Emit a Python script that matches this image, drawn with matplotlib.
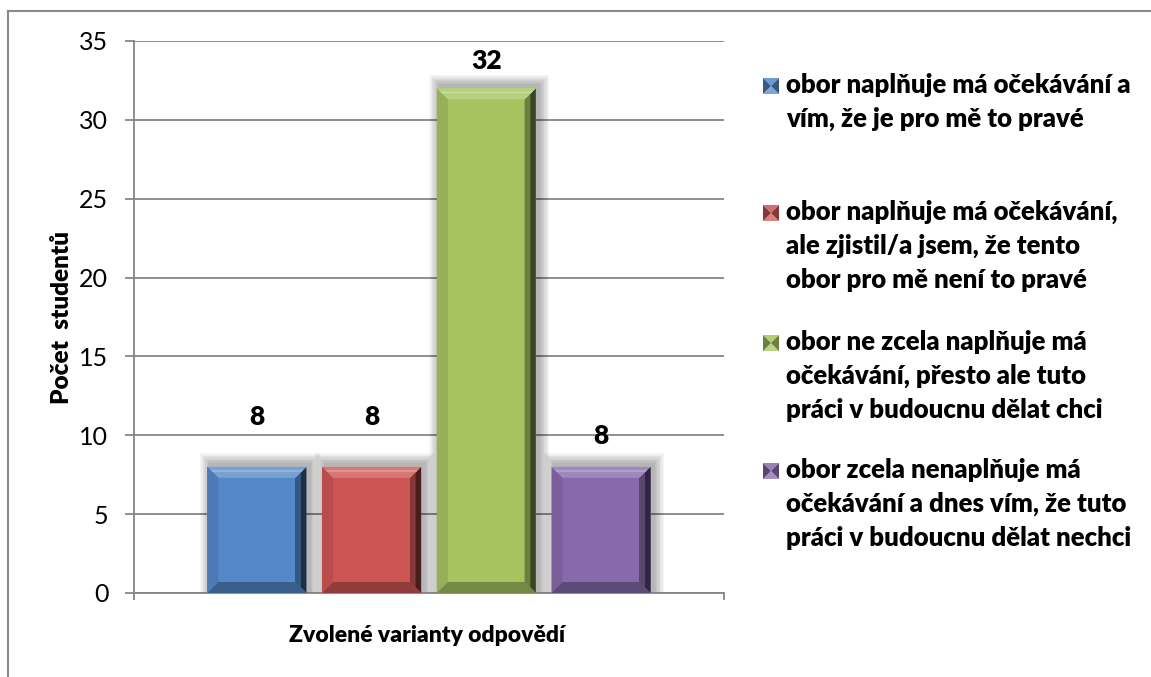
import numpy as np
import matplotlib
matplotlib.use("Agg")
import matplotlib.pyplot as plt
import matplotlib.colors as mcolors
from matplotlib.patches import Polygon, Rectangle
from matplotlib.lines import Line2D

plt.rcParams['font.family'] = ['Lato', 'DejaVu Sans']

# --- data ---
labels = [
    "obor naplňuje má očekávání a\nvím, že je pro mě to pravé",
    "obor naplňuje má očekávání,\nale zjistil/a jsem, že tento\nobor pro mě není to pravé",
    "obor ne zcela naplňuje má\nočekávání, přesto ale tuto\npráci v budoucnu dělat chci",
    "obor zcela nenaplňuje má\nočekávání a dnes vím, že tuto\npráci v budoucnu dělat nechci",
]
values = [8, 8, 32, 8]
colors = ['#5588C8', '#CD5654', '#A5C45F', '#876AAC']
y_ticks = [0, 5, 10, 15, 20, 25, 30, 35]
# vertical offsets (points) of the value labels above the bars
label_offsets = [36, 36, 20, 22.5]

W, H = 1151, 677
fig = plt.figure(figsize=(W / 100, H / 100), dpi=100)
ax = fig.add_axes([134 / W, 1 - 593 / H, (724 - 134) / W, (593 - 41) / H])

xlim = (-1.072, 4.072)
ylim = (0, 35)
ax.set_xlim(*xlim)
ax.set_ylim(*ylim)
sx = 590 / (xlim[1] - xlim[0])   # px per x unit
sy = 552 / (ylim[1] - ylim[0])   # px per y unit

def mix(c, other, t):
    a = np.array(mcolors.to_rgb(c))
    b = np.array(mcolors.to_rgb(other))
    return tuple(a * (1 - t) + b * t)

x = np.arange(len(values))
bars = ax.bar(x, values, width=0.863, color=colors, zorder=3, linewidth=0)

# shadow + bevel effect
bp = 11
for bar, c in zip(bars, colors):
    x0 = bar.get_x()
    w = bar.get_width()
    h = bar.get_height()
    x1 = x0 + w
    dx, dy = bp / sx, bp / sy
    for k in range(8):
        e = (k + 1) * 1.3
        ax.add_patch(Rectangle((x0 - e / sx + 3 / sx, -e / sy),
                               w + 2 * e / sx, h + 2 * e / sy + 3 / sy,
                               facecolor='black', alpha=0.04, lw=0, zorder=2))
    top = [(x0, h), (x1, h), (x1 - dx, h - dy), (x0 + dx, h - dy)]
    left = [(x0, 0), (x0, h), (x0 + dx, h - dy), (x0 + dx, dy)]
    right = [(x1, 0), (x1, h), (x1 - dx, h - dy), (x1 - dx, dy)]
    right_in = [(x1 - dx / 2, dy / 2), (x1 - dx / 2, h - dy / 2), (x1 - dx, h - dy), (x1 - dx, dy)]
    bottom = [(x0, 0), (x1, 0), (x1 - dx, dy), (x0 + dx, dy)]
    shine = [(x0 + dx * 0.3, h - dy * 0.3), (x1 - dx * 0.3, h - dy * 0.3),
             (x1 - dx * 0.45, h - dy * 0.45), (x0 + dx * 0.45, h - dy * 0.45)]
    for pts, col in [(left, mix(c, 'black', 0.1)), (right, mix(c, 'black', 0.65)),
                     (right_in, mix(c, 'black', 0.35)),
                     (bottom, mix(c, 'black', 0.3)), (top, mix(c, 'white', 0.2)),
                     (shine, mix(c, 'white', 0.4))]:
        ax.add_patch(Polygon(pts, closed=True, facecolor=col, lw=0, zorder=4))

for bar, v, off in zip(bars, values, label_offsets):
    ax.annotate(str(v), (bar.get_x() + bar.get_width() / 2, v),
                xytext=(0, off), textcoords='offset points',
                ha='center', va='center', fontsize=19, fontweight='heavy', zorder=5)

# axes styling
grid_c = '#868686'
ax.set_yticks(y_ticks)
ax.yaxis.grid(True, color=grid_c, linewidth=1.3)
ax.set_axisbelow(True)
for s in ['top', 'right']:
    ax.spines[s].set_visible(False)
for s in ['left', 'bottom']:
    ax.spines[s].set_color(grid_c)
    ax.spines[s].set_linewidth(1.3)
ax.tick_params(axis='y', direction='out', length=6.5, width=1.3, color=grid_c,
               pad=12, labelsize=18)
ax.set_xticks([xlim[0], xlim[1]])
ax.set_xticklabels(['', ''])
ax.tick_params(axis='x', direction='out', length=5, width=1.3, color=grid_c)

fig.text(62 / W, 1 - 317 / H, "Počet  studentů", rotation=90, ha='center', va='center',
         fontsize=17.5, fontweight='heavy')
fig.text(427 / W, 1 - 635 / H, "Zvolené varianty odpovědí", ha='center', va='center',
         fontsize=16.5, fontweight='heavy')

# legend drawn by hand
first_line_y = [85, 212, 342, 470]
line_px = 34
for lab, c, y0 in zip(labels, colors, first_line_y):
    for k, line in enumerate(lab.split('\n')):
        fig.text(786 / W, 1 - (y0 + k * line_px) / H, line, ha='left', va='center',
                 fontsize=18.5, fontweight='heavy')
    mx0, mx1 = 763, 779
    my0, my1 = y0 - 7, y0 + 9
    cx, cy = (mx0 + mx1) / 2, (my0 + my1) / 2
    tris = [
        ([(mx0, my0), (mx1, my0), (cx, cy)], mix(c, 'white', 0.15)),
        ([(mx0, my1), (mx1, my1), (cx, cy)], mix(c, 'white', 0.25)),
        ([(mx0, my0), (mx0, my1), (cx, cy)], mix(c, 'black', 0.35)),
        ([(mx1, my0), (mx1, my1), (cx, cy)], mix(c, 'black', 0.35)),
    ]
    for pts, col in tris:
        fpts = [(px / W, 1 - py / H) for px, py in pts]
        fig.patches.append(Polygon(fpts, closed=True, facecolor=col, lw=0,
                                   transform=fig.transFigure, figure=fig))

# chart border (left and top edges visible)
fig.lines.append(Line2D([8 / W, 8 / W], [0, 1 - 11 / H], color='#8a8a8a', lw=1.5,
                        transform=fig.transFigure, figure=fig))
fig.lines.append(Line2D([8 / W, 1], [1 - 11 / H, 1 - 11 / H], color='#8a8a8a', lw=1.5,
                        transform=fig.transFigure, figure=fig))

fig.savefig('out.png', dpi=100)
